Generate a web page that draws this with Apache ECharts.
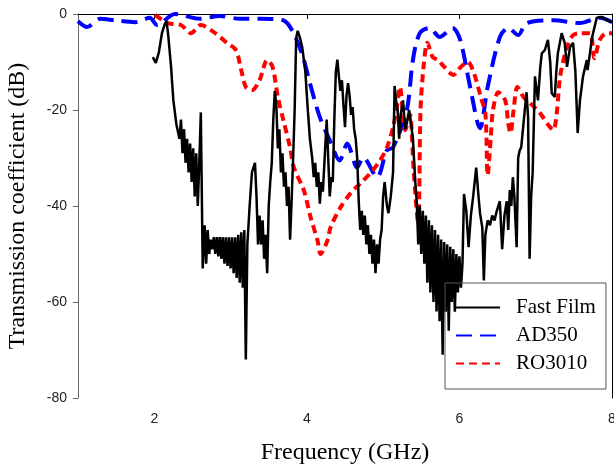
<!DOCTYPE html>
<html>
<head>
<meta charset="utf-8">
<script src="https://cdn.jsdelivr.net/npm/echarts@6/dist/echarts.min.js"></script>
<style>
  html, body { margin: 0; padding: 0; background: #fff; }
  #chart { width: 614px; height: 465px; }
</style>
</head>
<body>
<div id="chart"></div>
<script>
// frequency (GHz), transmission (dB)
const xTicks = [2, 4, 6, 8];
const seriesNames = ["Fast Film", "AD350", "RO3010"];

const fastFilm = [
  [1.98, -9], [2.02, -10.2], [2.06, -8], [2.10, -4], [2.14, -2], [2.16, -1.5], [2.18, -4], [2.22, -11],
  [2.25, -18], [2.29, -23], [2.33, -26],
  [2.35, -22], [2.37, -29], [2.39, -24], [2.41, -31], [2.43, -26], [2.45, -33], [2.47, -27], [2.49, -35],
  [2.51, -28], [2.53, -38], [2.55, -29], [2.57, -40], [2.59, -31], [2.61, -20.5], [2.635, -53], [2.66, -44],
  [2.68, -52], [2.70, -45], [2.72, -50], [2.74, -47], [2.76, -49], [2.78, -46.5], [2.80, -50], [2.82, -46.5],
  [2.84, -50.5], [2.86, -46.5], [2.88, -51], [2.90, -46.5], [2.92, -52], [2.94, -46.5], [2.96, -52.5],
  [2.98, -46.5], [3.00, -53], [3.02, -46.5], [3.04, -54], [3.06, -46.5], [3.08, -55], [3.10, -46], [3.12, -56],
  [3.14, -45.5], [3.16, -57], [3.18, -45], [3.20, -72], [3.22, -48], [3.25, -40], [3.28, -33], [3.32, -31],
  [3.34, -38], [3.36, -48], [3.38, -42], [3.40, -48], [3.42, -43], [3.44, -51], [3.46, -46], [3.48, -54],
  [3.50, -40], [3.52, -35], [3.54, -31], [3.56, -22], [3.58, -16], [3.60, -19], [3.62, -28], [3.64, -24],
  [3.66, -33], [3.68, -29], [3.70, -36], [3.72, -33], [3.74, -40], [3.76, -36], [3.78, -47], [3.80, -39],
  [3.82, -30], [3.84, -20], [3.86, -5], [3.88, -3.5], [3.91, -5], [3.94, -7], [3.98, -12], [4.01, -19.4],
  [4.04, -26], [4.07, -30], [4.09, -34], [4.11, -31], [4.13, -36], [4.15, -33], [4.17, -39.5], [4.19, -35],
  [4.21, -37], [4.24, -28], [4.26, -22], [4.28, -30], [4.30, -38], [4.32, -34], [4.34, -35], [4.36, -22],
  [4.38, -12], [4.40, -9.5], [4.42, -13], [4.44, -16], [4.46, -13.8], [4.48, -19], [4.50, -23.6], [4.52, -17],
  [4.54, -14.4], [4.56, -17], [4.58, -21], [4.60, -19.4], [4.62, -24], [4.64, -26], [4.66, -30], [4.68, -39],
  [4.70, -45], [4.72, -41], [4.74, -46], [4.76, -42], [4.78, -48], [4.80, -44], [4.82, -50], [4.84, -46],
  [4.86, -52], [4.88, -47], [4.90, -54], [4.92, -48], [4.94, -52], [4.96, -47], [4.98, -45], [5.00, -38],
  [5.02, -35], [5.05, -40], [5.07, -41.5], [5.10, -38], [5.13, -33], [5.15, -15], [5.17, -18], [5.19, -20],
  [5.21, -26], [5.23, -21], [5.26, -18], [5.29, -24], [5.31, -22.8], [5.34, -20], [5.36, -22], [5.39, -26],
  [5.42, -34.7], [5.44, -39],
  [5.46, -48], [5.48, -40], [5.50, -50], [5.52, -41], [5.54, -52], [5.56, -42], [5.58, -56], [5.60, -43],
  [5.62, -58], [5.64, -44], [5.66, -60], [5.68, -45], [5.70, -62], [5.72, -46], [5.74, -64], [5.76, -47],
  [5.78, -71], [5.80, -47.5], [5.82, -62], [5.84, -48], [5.86, -66], [5.88, -48.5], [5.90, -60], [5.92, -49],
  [5.94, -62], [5.96, -50], [5.98, -58], [6.00, -50.5], [6.02, -57], [6.04, -52], [6.06, -37.5], [6.09, -41],
  [6.12, -48.6], [6.15, -42], [6.18, -38], [6.22, -32], [6.25, -38], [6.27, -41.5], [6.30, -44.5], [6.32, -55.5],
  [6.34, -46], [6.37, -43], [6.40, -44], [6.43, -42], [6.46, -43], [6.49, -41], [6.53, -39], [6.56, -49],
  [6.59, -42], [6.62, -39], [6.64, -45], [6.66, -36.7], [6.68, -40], [6.70, -34], [6.72, -38], [6.75, -48.6],
  [6.77, -30], [6.79, -28.4], [6.81, -27.8], [6.84, -22.8], [6.88, -16.3], [6.90, -21.5], [6.92, -51],
  [6.94, -38], [6.96, -33], [6.99, -13], [7.03, -18], [7.06, -11], [7.08, -8.2], [7.12, -7.5], [7.16, -5.4],
  [7.19, -10], [7.21, -16.5], [7.25, -17.3], [7.27, -12], [7.29, -8.2], [7.34, -4], [7.38, -6], [7.41, -11],
  [7.45, -6.9], [7.49, -6], [7.52, -12], [7.55, -24.8], [7.58, -18], [7.62, -13], [7.67, -9.6], [7.68, -11.7],
  [7.74, -4.8], [7.80, -0.8], [7.87, -0.6], [7.93, -1.3], [8.0, -1.7]
];

const ad350 = [
  [1.0, -1.5], [1.12, -2.7], [1.29, -1.0], [1.48, -1.3], [1.75, -1.7], [1.94, -0.8], [2.04, -2.3], [2.27, 0],
  [2.60, -1.0], [2.86, -0.4], [3.12, -1.0], [3.39, -1.0], [3.69, -1.3], [3.82, -3.8], [3.95, -9.0],
  [4.04, -14.4], [4.17, -21.5], [4.30, -26.3], [4.43, -30.5], [4.53, -27], [4.66, -32], [4.74, -29.9],
  [4.92, -34], [5.05, -28.4], [5.13, -27.8], [5.31, -20], [5.39, -9.6], [5.48, -4], [5.61, -2.9], [5.74, -4.8],
  [5.91, -2.9], [6.01, -5.4], [6.14, -15.2], [6.27, -23.8], [6.37, -15.2], [6.53, -4.8], [6.64, -2.9],
  [6.77, -4.4], [6.88, -1.9], [7.23, -1.3], [7.58, -1.9], [7.84, -0.8], [8.0, -1.7]
];

const ro3010 = [
  [2.01, -0.2], [2.18, -1.9], [2.35, -2.3], [2.48, -4], [2.61, -2.3], [2.80, -4], [2.95, -6], [3.07, -7.5],
  [3.14, -11.7], [3.20, -15.2], [3.28, -15.9], [3.38, -13.8], [3.48, -9.6], [3.55, -11], [3.62, -17.3],
  [3.69, -22], [3.78, -27.8], [3.83, -32], [3.96, -36.7], [4.05, -42.4], [4.14, -47.2], [4.18, -50],
  [4.27, -47.2], [4.31, -44.5], [4.44, -40.3], [4.57, -37.4], [4.70, -35.3], [4.83, -33.2], [4.96, -30.5],
  [5.05, -27.8], [5.13, -23.6], [5.18, -19.4], [5.22, -15.2], [5.29, -24.2], [5.35, -21], [5.40, -32.6],
  [5.46, -44], [5.49, -20], [5.53, -11], [5.58, -6], [5.65, -9], [5.72, -9.6], [5.80, -11], [5.92, -12.7],
  [6.02, -11], [6.11, -10], [6.19, -12.3], [6.28, -17.3], [6.34, -20.7], [6.37, -33.6], [6.41, -26],
  [6.44, -20], [6.51, -16.3], [6.60, -18], [6.64, -22.8], [6.67, -24.8], [6.71, -20], [6.76, -15.2],
  [6.84, -17.3], [6.93, -18.6], [7.06, -20.7], [7.15, -22.8], [7.23, -24.2], [7.28, -20], [7.32, -13],
  [7.41, -6.9], [7.49, -4.4], [7.58, -4], [7.71, -4], [7.77, -9.2], [7.84, -5.4], [7.93, -4], [8.0, -4]
];

const serif = "'Liberation Serif', 'Times New Roman', serif";
const sans = "'Liberation Sans', Arial, sans-serif";

const chart = echarts.init(document.getElementById("chart"), null, { renderer: "canvas" });

const option = {
  animation: false,
  backgroundColor: "#fff",
  grid: { left: 78, right: 2, top: 14, bottom: 67, containLabel: false, outerBoundsMode: "none" },
  legend: {
    orient: "vertical",
    left: 445,
    top: 283,
    width: 140,
    padding: [14, 10, 15, 10],
    itemGap: 7,
    itemWidth: 44,
    itemHeight: 14,
    borderColor: "#555",
    borderWidth: 1,
    data: seriesNames,
    itemStyle: { opacity: 0 },
    textStyle: { fontFamily: serif, fontSize: 21, color: "#000", padding: [0, 0, 0, 11] }
  },
  xAxis: [
    {
      type: "value",
      min: 1,
      max: 8,
      name: "Frequency (GHz)",
      nameLocation: "middle",
      nameGap: 43,
      nameTextStyle: { fontFamily: serif, fontSize: 24, color: "#000" },
      splitLine: { show: false },
      axisLine: { lineStyle: { color: "#000", width: 1 } },
      axisTick: { show: true, length: 5, inside: false, customValues: xTicks, lineStyle: { color: "#000" } },
      axisLabel: { customValues: xTicks, margin: 14, fontFamily: sans, fontSize: 14, color: "#222" }
    },
    {
      type: "value",
      position: "top",
      min: 1,
      max: 8,
      splitLine: { show: false },
      axisLine: { show: true, lineStyle: { color: "#000", width: 1 } },
      axisTick: { show: false },
      axisLabel: { show: false }
    }
  ],
  yAxis: [
    {
      type: "value",
      min: -80,
      max: 0,
      interval: 20,
      name: "Transmission coefficient (dB)",
      nameLocation: "middle",
      nameGap: 48,
      nameTextStyle: { fontFamily: serif, fontSize: 24, color: "#000" },
      splitLine: { show: false },
      axisLine: { show: true, lineStyle: { color: "#666", width: 1 } },
      axisTick: { show: true, length: 5, lineStyle: { color: "#666" } },
      axisLabel: { margin: 11, fontFamily: sans, fontSize: 14, color: "#222" }
    },
    {
      type: "value",
      position: "right",
      min: -80,
      max: 0,
      splitLine: { show: false },
      axisLine: { show: true, lineStyle: { color: "#000", width: 1 } },
      axisTick: { show: false },
      axisLabel: { show: false }
    }
  ],
  series: [
    {
      name: "Fast Film",
      type: "line",
      data: fastFilm,
      showSymbol: false,
      symbol: "none",
      color: "#000",
      lineStyle: { color: "#000", width: 2.5, type: "solid" },
      z: 3
    },
    {
      name: "AD350",
      type: "line",
      data: ad350,
      smooth: 0.3,
      showSymbol: false,
      symbol: "none",
      color: "#0000ff",
      lineStyle: { color: "#0000ff", width: 4, type: [16, 8] },
      z: 2
    },
    {
      name: "RO3010",
      type: "line",
      data: ro3010,
      smooth: 0.3,
      showSymbol: false,
      symbol: "none",
      color: "#ff0000",
      lineStyle: { color: "#ff0000", width: 4, type: [8, 5] },
      z: 2
    }
  ]
};

chart.setOption(option);
</script>
</body>
</html>
